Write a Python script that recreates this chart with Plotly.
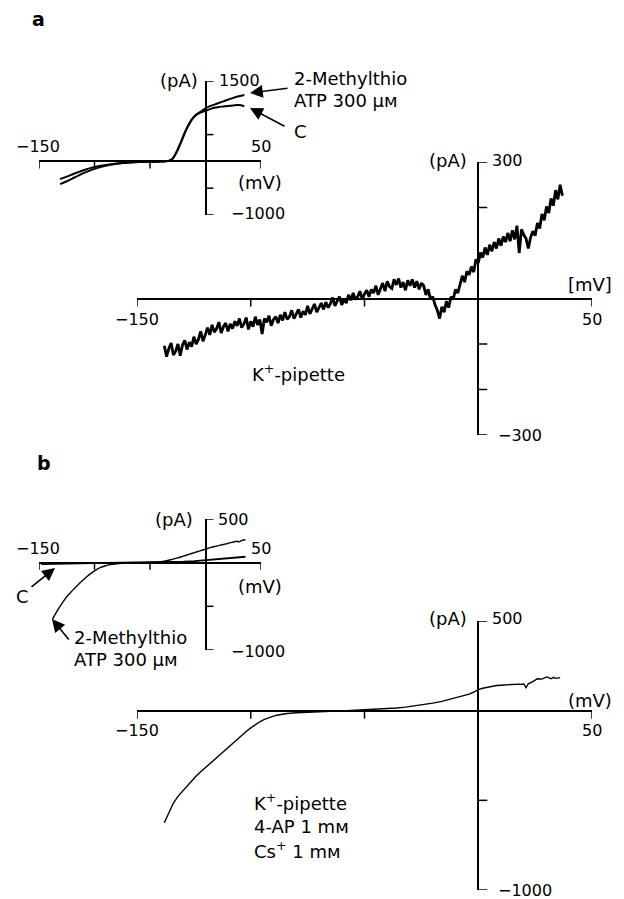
import plotly.graph_objects as go

W, H = 624, 899

# ---------------- data ----------------
# Panel a, inset: whole-cell currents (pA) vs membrane potential (mV)
a_in_c_mv = [-131, -125, -118, -110, -100, -90, -80, -70, -60, -50, -40, -34, -30, -26, -22,
             -18, -14, -11, -8, -5, -2, 0, 4, 8, 12, 16, 20, 25, 30, 35]
a_in_c_pa = [-330, -285, -225, -165, -105, -65, -38, -22, -12, -6, -2, 5, 40, 170, 360,
             560, 720, 810, 870, 905, 930, 945, 975, 1000, 1015, 1025, 1035, 1045, 1050, 1030]
a_in_m_mv = [-131, -125, -118, -110, -100, -90, -80, -70, -60, -50, -40, -34, -30, -26, -22,
             -18, -14, -11, -8, -5, -2, 0, 4, 8, 12, 16, 20, 25, 30, 35]
a_in_m_pa = [-425, -370, -300, -220, -140, -80, -45, -25, -12, -6, -2, 5, 45, 180, 370,
             570, 730, 820, 880, 920, 960, 990, 1030, 1060, 1090, 1120, 1150, 1185, 1215, 1240]

# Panel a, main: 2-MeS-ATP induced current (noisy ramp), 1 mV sampling
a_main_mv = list(range(-138, 38))
a_main_pa = [
    -104, -128, -110, -98, -124, -116, -100, -126, -102, -92,
    -112, -96, -106, -84, -100, -90, -72, -94, -80, -64,
    -80, -58, -74, -66, -52, -76, -62, -54, -72, -56,
    -66, -50, -60, -44, -64, -56, -42, -68, -50, -62,
    -40, -58, -46, -78, -44, -52, -38, -60, -46, -40,
    -54, -36, -48, -30, -46, -40, -26, -44, -34, -24,
    -42, -28, -36, -16, -34, -22, -12, -30, -20, -10,
    -24, -8, -20, -12, 2, -16, -6, 4, -14, -2,
    -10, 8, -4, 12, -2, 4, 16, -2, 10, 18,
    4, 20, 12, 28, 8, 22, 34, 16, 38, 26,
    22, 42, 30, 44, 24, 36, 18, 40, 28, 42,
    24, 38, 20, 34, 28, 8, 20, -2, 4, -14,
    -26, -44, -18, -30, -6, -20, 4, -2, 20, 12,
    34, 50, 36, 60, 52, 70, 58, 86, 78, 100,
    90, 112, 96, 118, 104, 124, 110, 132, 116, 136,
    124, 144, 126, 150, 130, 160, 100, 152, 140, 132,
    110, 134, 148, 138, 166, 154, 186, 172, 202, 188,
    220, 204, 238, 218, 250, 226]

# Panel b, inset
b_in_c_mv = [-148, -140, -130, -120, -110, -100, -90, -80, -70, -60, -50, -40, -30, -20, -10,
             0, 10, 20, 30, 36]
b_in_c_pa = [-15, -12, -10, -8, -6, -5, -4, -3, -2, -1, 0, 2, 5, 10, 18,
             28, 40, 52, 62, 68]
b_in_m_mv = [-138, -134, -130, -125, -120, -115, -110, -105, -100, -95, -90, -86, -80, -70, -60,
             -50, -40, -35, -30, -25, -20, -15, -10, -5, 0, 5, 10, 15, 20, 25, 28, 30, 33, 36]
b_in_m_pa = [-650, -560, -480, -390, -320, -255, -195, -140, -95, -58, -35, -22, -12, -5, -1,
             3, 12, 22, 38, 55, 75, 95, 115, 135, 155, 175, 190, 205, 220, 235, 245, 240, 255, 262]

# Panel b, main
b_main_mv = [-138, -136, -134, -132, -130, -128, -126, -124, -122, -120,
             -118, -116, -114, -112, -110, -108, -106, -104, -102, -100,
             -98, -96, -94, -92, -90, -88, -86, -84,
             -80, -76, -72, -68, -64, -60, -56, -52, -48, -44, -40, -36, -32, -28, -24, -20,
             -16, -12, -8, -4,
             -2, 0, 2, 4, 6, 8, 10, 12, 14, 16, 18,
             19, 20, 21, 22,
             24, 26, 28, 30, 32,
             33, 34, 36]
b_main_pa = [-625, -565, -515, -478, -448, -418, -390, -364, -341, -318,
             -295, -272, -250, -228, -205, -182, -160, -138, -116, -96,
             -78, -62, -48, -38, -30, -24, -19, -16,
             -12, -9, -7, -5, -3, -1, 1, 3, 5, 8, 11, 15, 20, 26, 33, 42,
             52, 64, 78, 92,
             104, 117, 125, 131, 136, 140, 142, 144, 146, 145, 148,
             146, 150, 128, 150,
             162, 178, 176, 188, 178,
             186, 180, 184]

# axis tick positions
x_ticks = [-150, -100, -50, 50]
a_in_yticks = [1500, 500, -500, -1000]
a_main_yticks = [300, 200, 100, -100, -200, -300]
b_in_yticks = [500, -500, -1000]
b_main_yticks = [500, -500, -1000]

# ---------------- figure ----------------
FONT = "DejaVu Sans"
fig = go.Figure()


def px_x(x):
    return x / W


def px_y(y):
    return 1 - y / H


def add_curve(xs, ys, ax, width, shape="linear"):
    fig.add_trace(go.Scatter(x=xs, y=ys, mode="lines", xaxis="x" + ax, yaxis="y" + ax,
                             line=dict(color="black", width=width, shape=shape),
                             hoverinfo="skip", showlegend=False))


add_curve(a_in_c_mv, a_in_c_pa, "", 2.0, "spline")
add_curve(a_in_m_mv, a_in_m_pa, "", 2.0, "spline")
add_curve(a_main_mv, a_main_pa, "2", 2.8)
add_curve(b_in_c_mv, b_in_c_pa, "3", 1.9)
add_curve(b_in_m_mv, b_in_m_pa, "3", 1.4, "spline")
add_curve(b_main_mv, b_main_pa, "4", 1.4)

panels = {
    # name: (x px range, y px range(top,bottom), y range)
    "": ((39, 261), (81, 215), (-1000, 1500)),
    "2": ((137, 592), (162, 435), (-300, 300)),
    "3": ((39, 261), (519, 650), (-1000, 500)),
    "4": ((137, 592), (621, 890), (-1000, 500)),
}

layout = dict(width=W, height=H, margin=dict(l=0, r=0, t=0, b=0),
              plot_bgcolor="rgba(0,0,0,0)", paper_bgcolor="white", showlegend=False)
for name, ((x0, x1), (yt, yb), yr) in panels.items():
    xa = "xaxis" + name
    ya = "yaxis" + name
    layout[xa] = dict(domain=[px_x(x0), px_x(x1)], range=[-150, 50], anchor="y" + name,
                      showgrid=False, showticklabels=False, ticks="", showline=False,
                      zeroline=True, zerolinecolor="black", zerolinewidth=1.5, fixedrange=True)
    layout[ya] = dict(domain=[px_y(yb), px_y(yt)], range=list(yr), anchor="x" + name,
                      showgrid=False, showticklabels=False, ticks="", showline=False,
                      zeroline=True, zerolinecolor="black", zerolinewidth=1.5, fixedrange=True)
fig.update_layout(**layout)

shapes = []


def xticks(ax, ticks, length):
    for t in ticks:
        shapes.append(dict(type="line", xref="x" + ax, yref="y" + ax, x0=t, x1=t,
                           ysizemode="pixel", yanchor=0, y0=0, y1=-length,
                           line=dict(color="black", width=1.5)))


def yticks(ax, ticks, length):
    for t in ticks:
        shapes.append(dict(type="line", xref="x" + ax, yref="y" + ax, y0=t, y1=t,
                           xsizemode="pixel", xanchor=0, x0=0, x1=length,
                           line=dict(color="black", width=1.5)))


xticks("", x_ticks, 7)
yticks("", a_in_yticks, 8)
xticks("2", x_ticks, 8)
yticks("2", a_main_yticks, 9)
xticks("3", x_ticks, 7)
yticks("3", b_in_yticks, 8)
xticks("4", x_ticks, 8)
yticks("4", b_main_yticks, 9)
fig.update_layout(shapes=shapes)

ann = []


def text(s, x, y, xanchor="left", size=16, bold=False):
    if bold:
        s = "<b>" + s + "</b>"
    ann.append(dict(text=s, x=px_x(x), y=px_y(y), xref="paper", yref="paper",
                    xanchor=xanchor, yanchor="middle", showarrow=False,
                    font=dict(family=FONT, size=size, color="black")))


def arrow(x_head, y_head, x_tail, y_tail):
    ann.append(dict(text="", x=px_x(x_head), y=px_y(y_head), xref="paper", yref="paper",
                    ax=x_tail - x_head, ay=y_tail - y_head, showarrow=True,
                    arrowhead=2, arrowsize=1.6, arrowwidth=1.6, arrowcolor="black"))


NUM = 16
LAB = 18
# panel letters
text("a", 30, 19, size=19, bold=True)
text("b", 35, 463, size=19, bold=True)

# inset a
text("(pA)", 200, 81, "right", LAB)
text("1500", 217, 81, "left", NUM)
text("\u2212150", 38, 146, "center", NUM)
text("50", 261, 146, "center", NUM)
text("(mV)", 236, 182, "left", LAB)
text("\u22121000", 229, 213, "left", NUM)
text("2-Methylthio", 292, 79, "left", LAB)
text("ATP 300 \u03bc\u043c", 292, 100, "left", LAB)
text("C", 292, 131, "left", LAB)
arrow(250, 93, 289, 88)
arrow(250, 108, 286, 127)

# main a
text("(pA)", 469, 160, "right", LAB)
text("300", 490, 160, "left", NUM)
text("[mV]", 566, 284, "left", LAB)
text("\u2212150", 137, 319, "center", NUM)
text("50", 592, 319, "center", NUM)
text("K<sup>+</sup>-pipette", 250, 373, "left", LAB)
text("\u2212300", 496, 435, "left", NUM)

# inset b
text("(pA)", 195, 519, "right", LAB)
text("500", 216, 519, "left", NUM)
text("\u2212150", 38, 548, "center", NUM)
text("50", 261, 548, "center", NUM)
text("(mV)", 236, 586, "left", LAB)
text("\u22121000", 229, 651, "left", NUM)
text("C", 14, 596, "left", LAB)
arrow(55, 568, 30, 588)
text("2-Methylthio", 72, 637, "left", LAB)
text("ATP 300 \u03bc\u043c", 72, 659, "left", LAB)
arrow(52, 619, 70, 641)

# main b
text("(pA)", 469, 618, "right", LAB)
text("500", 490, 618, "left", NUM)
text("(mV)", 566, 700, "left", LAB)
text("\u2212150", 137, 730, "center", NUM)
text("50", 592, 730, "center", NUM)
text("K<sup>+</sup>-pipette", 252, 802, "left", LAB)
text("4-AP 1 m\u043c", 252, 826, "left", LAB)
text("Cs<sup>+</sup> 1 m\u043c", 252, 850, "left", LAB)
text("\u22121000", 496, 890, "left", NUM)

fig.update_layout(annotations=ann)
fig.write_html("out.html")
